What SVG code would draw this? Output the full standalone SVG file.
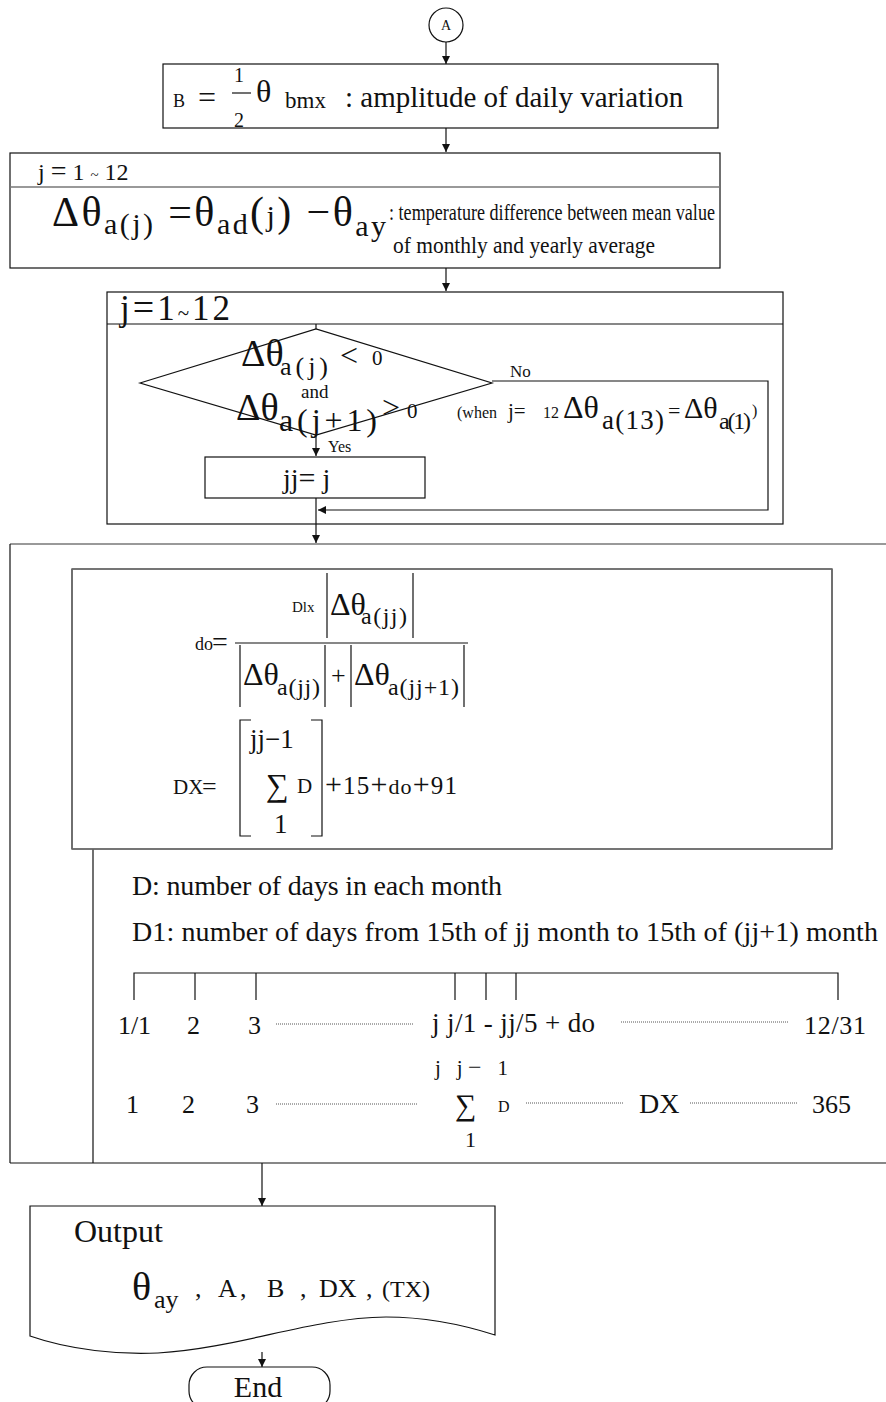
<svg xmlns="http://www.w3.org/2000/svg" width="886" height="1402" viewBox="0 0 886 1402">
<style>
.ln{fill:none;stroke:#111;stroke-width:1.2}
.gl{fill:none;stroke:#777;stroke-width:1.5}
.dt{fill:none;stroke:#555;stroke-width:1;stroke-dasharray:1 1}
text{font-family:"Liberation Serif","Times New Roman",serif;fill:#111}
</style>
<defs>
<marker id="ah" viewBox="0 0 10 10" refX="10" refY="5" markerWidth="8" markerHeight="8" markerUnits="userSpaceOnUse" orient="auto"><path d="M0,0 L10,5 L0,10 Z" fill="#111"/></marker>
</defs>
<rect width="886" height="1402" fill="#fff"/>

<g id="connectors" class="ln">
<line x1="446" y1="42" x2="446" y2="64" marker-end="url(#ah)"/>
<line x1="446" y1="128" x2="446" y2="152" marker-end="url(#ah)"/>
<line x1="446" y1="268" x2="446" y2="291" marker-end="url(#ah)"/>
<line x1="316" y1="324" x2="316" y2="329"/>
<line x1="316" y1="435" x2="316" y2="456" marker-end="url(#ah)"/>
<polyline points="492,381 768,381 768,510 318,510" marker-end="url(#ah)"/>
<line x1="316" y1="498" x2="316" y2="543" marker-end="url(#ah)"/>
<line x1="262" y1="1163" x2="262" y2="1206" marker-end="url(#ah)"/>
<line x1="262" y1="1352" x2="262" y2="1367" marker-end="url(#ah)"/>
</g>

<g id="nodeA">
<circle cx="446" cy="25" r="17" class="ln"/>
<text x="446" y="30" font-size="14" text-anchor="middle">A</text>
</g>

<g id="nodeB">
<rect x="163" y="64" width="555" height="64" class="ln"/>
<text x="173" y="107" font-size="18">B</text>
<text x="198" y="108" font-size="32">=</text>
<text x="234" y="82" font-size="20">1</text>
<line x1="232" y1="93" x2="251" y2="93" class="ln" stroke-width="2"/>
<text x="234" y="127" font-size="20">2</text>
<text x="256" y="102" font-size="32">θ</text>
<text x="285" y="108" font-size="23">bmx</text>
<text x="345" y="107" font-size="29">: amplitude of daily variation</text>
</g>

<g id="nodeLoop1">
<rect x="10" y="153" width="710" height="115" class="ln"/>
<line x1="10" y1="187" x2="720" y2="187" class="gl"/>
<text x="38" y="180" font-size="24">j <tspan font-size="28">=</tspan> 1 <tspan font-size="15">~</tspan> 12</text>
<text x="52" y="226" font-size="42" textLength="334" lengthAdjust="spacing">Δθ<tspan font-size="30" dy="8">a(j)</tspan><tspan dy="-8"> =θ</tspan><tspan font-size="30" dy="8">ad</tspan><tspan dy="-8">(</tspan><tspan font-size="30">j</tspan>) −θ<tspan font-size="30" dy="10">ay</tspan></text>
<text x="389" y="220" font-size="23" textLength="326" lengthAdjust="spacingAndGlyphs">: temperature difference between mean value</text>
<text x="393" y="253" font-size="23" textLength="262" lengthAdjust="spacingAndGlyphs">of monthly  and yearly average</text>
</g>

<g id="nodeLoop2">
<rect x="107" y="292" width="676" height="232" class="ln"/>
<line x1="107" y1="324" x2="783" y2="324" class="ln"/>
<text x="120" y="320" font-size="35" textLength="110" lengthAdjust="spacing">j<tspan font-size="38">=</tspan>1<tspan font-size="21">~</tspan>12</text>
</g>

<g id="nodeDecision">
<path d="M140,383 L316,329 L492,383 L316,435 Z" class="ln"/>
<text x="241" y="366" font-size="38">Δθ</text>
<text x="280" y="375" font-size="26" textLength="48" lengthAdjust="spacing">a(j)</text>
<text x="340" y="366" font-size="32">&lt;</text>
<text x="372" y="365" font-size="21">0</text>
<text x="301" y="398" font-size="19">and</text>
<text x="236" y="420" font-size="38">Δθ</text>
<text x="279" y="431" font-size="32" textLength="98" lengthAdjust="spacing">a(j+1)</text>
<text x="382" y="418" font-size="32">&gt;</text>
<text x="407" y="418" font-size="21">0</text>
<text x="510" y="377" font-size="17">No</text>
<text x="457" y="418" font-size="16">(when</text>
<text x="508" y="418" font-size="21">j=</text>
<text x="543" y="418" font-size="16">12</text>
<text x="563" y="418" font-size="32">Δθ</text>
<text x="602" y="429" font-size="27" textLength="62" lengthAdjust="spacing">a(13)</text>
<text x="668" y="418" font-size="22">=</text>
<text x="684" y="418" font-size="30">Δθ</text>
<text x="719" y="429" font-size="24" textLength="32" lengthAdjust="spacing">a(1)</text>
<text x="752" y="416" font-size="16">)</text>
<text x="328" y="452" font-size="16">Yes</text>
</g>

<g id="nodeJJ">
<rect x="205" y="457" width="220" height="41" class="ln"/>
<text x="283" y="488" font-size="28">jj<tspan font-size="30">=</tspan> j</text>
</g>

<g id="nodeCalc">
<line x1="10" y1="544" x2="886" y2="544" class="gl"/>
<line x1="10" y1="544" x2="10" y2="1163" class="ln"/>
<line x1="10" y1="1163" x2="886" y2="1163" class="ln"/>
<line x1="93" y1="849" x2="93" y2="1163" class="ln"/>
<rect x="72" y="569" width="760" height="280" class="ln"/>
<line x1="72" y1="569" x2="832" y2="569" class="gl"/>
<line x1="72" y1="849" x2="832" y2="849" class="gl"/>
<text x="195" y="650" font-size="18">do</text>
<text x="212" y="651" font-size="28">=</text>
<line x1="235" y1="643" x2="468" y2="643" class="ln" stroke-width="1.5"/>
<text x="292" y="612" font-size="15">Dlx</text>
<line x1="327" y1="573" x2="327" y2="638" class="ln"/>
<text x="330" y="615" font-size="32">Δθ</text>
<text x="361" y="624" font-size="24" textLength="46" lengthAdjust="spacing">a(jj)</text>
<line x1="413" y1="573" x2="413" y2="638" class="ln"/>
<line x1="240" y1="645" x2="240" y2="707" class="ln"/>
<text x="243" y="685" font-size="32">Δθ</text>
<text x="277" y="695" font-size="24" textLength="43" lengthAdjust="spacing">a(jj)</text>
<line x1="325" y1="645" x2="325" y2="707" class="ln"/>
<text x="331" y="684" font-size="26">+</text>
<line x1="351" y1="645" x2="351" y2="707" class="ln"/>
<text x="354" y="685" font-size="32">Δθ</text>
<text x="388" y="695" font-size="24" textLength="71" lengthAdjust="spacing">a(jj+1)</text>
<line x1="464" y1="645" x2="464" y2="707" class="ln"/>
<text x="173" y="794" font-size="21">DX</text>
<text x="202" y="795" font-size="26">=</text>
<polyline points="251,720 240,720 240,836 251,836" class="ln"/>
<polyline points="311,720 322,720 322,836 311,836" class="ln"/>
<text x="250" y="748" font-size="27">jj<tspan>−</tspan>1</text>
<text x="266" y="796" font-size="32">∑</text>
<text x="297" y="793" font-size="21">D</text>
<text x="274" y="833" font-size="27">1</text>
<text x="325" y="794" font-size="30" textLength="132" lengthAdjust="spacing">+<tspan font-size="25">15</tspan>+<tspan font-size="22">do</tspan>+<tspan font-size="25">91</tspan></text>
<text x="132" y="895" font-size="28" textLength="370" lengthAdjust="spacing">D: number of days in each  month</text>
<text x="132" y="941" font-size="28" textLength="746" lengthAdjust="spacing">D1: number of days from 15th of jj month to 15th of (jj+1) month</text>
<polyline points="134,1000 134,973 838,973 838,1000" class="ln"/>
<line x1="195" y1="973" x2="195" y2="1000" class="ln"/>
<line x1="256" y1="973" x2="256" y2="1000" class="ln"/>
<line x1="455" y1="973" x2="455" y2="1000" class="ln"/>
<line x1="486" y1="973" x2="486" y2="1000" class="ln"/>
<line x1="516" y1="973" x2="516" y2="1000" class="ln"/>
<text x="118" y="1034" font-size="26" textLength="33" lengthAdjust="spacing">1/1</text>
<text x="187" y="1034" font-size="26">2</text>
<text x="248" y="1034" font-size="26">3</text>
<line x1="276" y1="1024" x2="414" y2="1024" class="dt"/>
<text x="432" y="1032" font-size="27" textLength="163" lengthAdjust="spacing">j j/1 - jj/5 + do</text>
<line x1="621" y1="1022" x2="789" y2="1022" class="dt"/>
<text x="804" y="1034" font-size="26" textLength="62" lengthAdjust="spacing">12/31</text>
<text x="435" y="1075" font-size="21" textLength="73" lengthAdjust="spacing">j j<tspan font-size="24">−</tspan> 1</text>
<text x="126" y="1113" font-size="26">1</text>
<text x="182" y="1113" font-size="26">2</text>
<text x="246" y="1113" font-size="26">3</text>
<line x1="276" y1="1104" x2="417" y2="1104" class="dt"/>
<text x="455" y="1115" font-size="30">∑</text>
<text x="498" y="1112" font-size="16">D</text>
<line x1="526" y1="1103" x2="623" y2="1103" class="dt"/>
<text x="639" y="1113" font-size="28">DX</text>
<line x1="690" y1="1103" x2="797" y2="1103" class="dt"/>
<text x="812" y="1113" font-size="26">365</text>
<text x="465" y="1147" font-size="22">1</text>
</g>

<g id="nodeOutput">
<path d="M30,1206 H495 V1335 C470,1327 430,1317 386,1317 C310,1318 240,1348 158,1353 C120,1355 70,1350 30,1336 Z" class="ln"/>
<text x="74" y="1242" font-size="32">Output</text>
<text x="132" y="1300" font-size="40">θ</text>
<text x="154" y="1308" font-size="26">ay</text>
<text x="195" y="1297" font-size="26">,</text>
<text x="218" y="1297" font-size="26">A</text>
<text x="240" y="1297" font-size="26">,</text>
<text x="267" y="1297" font-size="26">B</text>
<text x="300" y="1297" font-size="26">,</text>
<text x="319" y="1297" font-size="26">DX</text>
<text x="366" y="1297" font-size="26">,</text>
<text x="382" y="1297" font-size="24">(TX)</text>
</g>

<g id="nodeEnd">
<rect x="189" y="1367" width="141" height="42" rx="18" class="ln"/>
<text x="258" y="1397" font-size="30" text-anchor="middle">End</text>
</g>
</svg>
